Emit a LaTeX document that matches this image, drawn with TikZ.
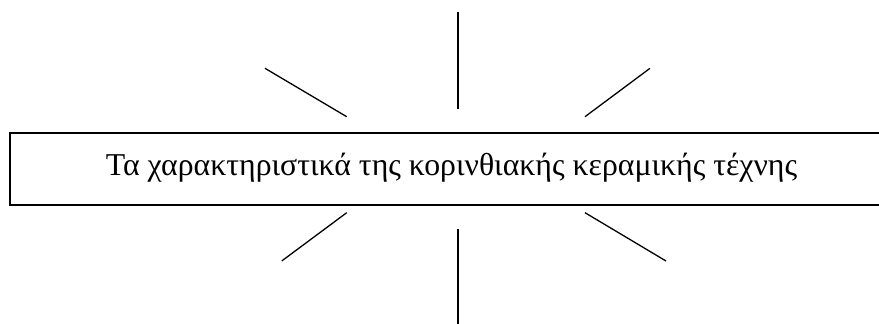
\documentclass[tikz,border=0pt]{standalone}
\usepackage{fontspec}
\setmainfont{Liberation Serif}
\begin{document}
\begin{tikzpicture}[x=1pt,y=-1pt,
  ray/.style={line width=1.3pt,line cap=butt},
  boxstyle/.style={draw,line width=2pt,rectangle,minimum width=927pt,minimum height=72pt,inner sep=0pt}]
\useasboundingbox (0,0) rectangle (879,324);
\node[boxstyle] (box) at (473,169) {};
\node[anchor=base,font=\fontsize{31.8}{38}\selectfont,inner sep=0pt] (title) at (451.5,175) {Τα χαρακτηριστικά της κορινθιακής κεραμικής τέχνης};
% top rays
\coordinate (t1a) at (458,12); \coordinate (t1b) at (458,109);
\coordinate (t2a) at (265,68.3); \coordinate (t2b) at (346.7,116.7);
\coordinate (t3a) at (650,68.3); \coordinate (t3b) at (585,116.7);
% bottom rays
\coordinate (b1a) at (458,229); \coordinate (b1b) at (458,324);
\coordinate (b2a) at (346.7,212.7); \coordinate (b2b) at (281.7,261);
\coordinate (b3a) at (585,212.7); \coordinate (b3b) at (666,261);
\draw[ray] (t1a) -- (t1b);
\draw[ray] (t2a) -- (t2b);
\draw[ray] (t3a) -- (t3b);
\draw[ray] (b1a) -- (b1b);
\draw[ray] (b2a) -- (b2b);
\draw[ray] (b3a) -- (b3b);
\end{tikzpicture}
\end{document}
